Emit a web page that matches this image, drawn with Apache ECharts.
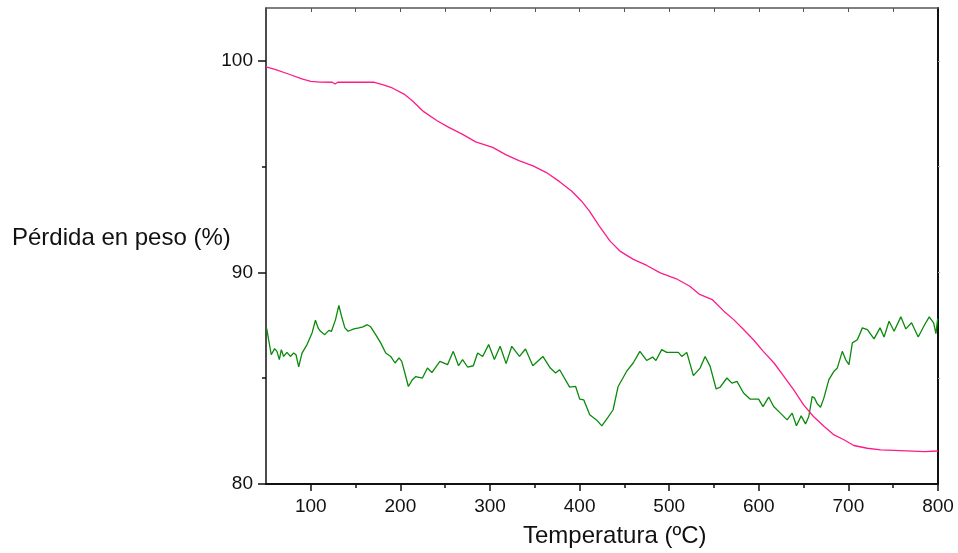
<!DOCTYPE html>
<html>
<head>
<meta charset="utf-8">
<script src="https://cdn.jsdelivr.net/npm/echarts@6/dist/echarts.min.js"></script>
<style>
  html, body { margin: 0; padding: 0; background: #fff; }
  #chart { width: 958px; height: 553px; }
</style>
</head>
<body>
<div id="chart"></div>
<script>
// pérdida de peso (curva rosa), [temperatura, %]
var pesoData = [
	[50, 99.72], [60, 99.6], [75, 99.38], [90, 99.15], [100, 99.03], [110, 99.0],
	[124, 98.99], [127, 98.91], [130, 98.99], [150, 98.99], [171, 98.99], [180, 98.88],
	[191, 98.72], [204, 98.43], [213, 98.13], [226, 97.6], [241, 97.17], [254, 96.86],
	[269, 96.54], [284, 96.17], [303, 95.91], [318, 95.56], [333, 95.27], [348, 95.04],
	[363, 94.72], [378, 94.28], [391, 93.85], [402, 93.38], [411, 92.9], [422, 92.19],
	[434, 91.48], [445, 91.01], [460, 90.62], [475, 90.33], [490, 89.98], [508, 89.7],
	[523, 89.35], [534, 88.96], [548, 88.72], [561, 88.17], [572, 87.77], [583, 87.3],
	[594, 86.82], [605, 86.27], [617, 85.72], [628, 85.09], [639, 84.45], [650, 83.74],
	[661, 83.19], [673, 82.72], [684, 82.32], [695, 82.09], [706, 81.82], [721, 81.69],
	[736, 81.61], [758, 81.58], [785, 81.53], [800, 81.56]
];
// señal verde
var senalData = [
	[50, 87.45], [51, 87.3], [52.9, 86.82], [55.9, 86.11], [57.4, 86.03], [59.6, 86.4],
	[62.2, 86.27], [64.9, 85.88], [67.1, 86.35], [69.7, 86.03], [73.4, 86.22], [77.2, 86.03],
	[80.9, 86.19], [83.5, 86.11], [86.5, 85.54], [90.2, 86.19], [95.8, 86.59], [101.4, 87.14],
	[105.2, 87.74], [108.1, 87.38], [110.8, 87.22], [115.6, 87.06], [120.1, 87.26], [123.1, 87.22],
	[127.6, 87.77], [131.3, 88.44], [134.3, 87.93], [138, 87.38], [141.7, 87.22], [148.1, 87.33],
	[153.7, 87.38], [158.2, 87.43], [163, 87.53], [166.8, 87.43], [172.4, 87.06], [178, 86.67],
	[183.6, 86.19], [189.2, 86.03], [194, 85.72], [198.5, 85.96], [201.5, 85.8], [206, 85.08],
	[208.9, 84.61], [213.4, 84.93], [217.2, 85.08], [224.6, 85.01], [230.2, 85.48], [235.1, 85.27],
	[244.1, 85.8], [252.6, 85.64], [259, 86.27], [264.9, 85.59], [269.4, 85.88], [275, 85.53],
	[281.4, 85.59], [286.2, 86.19], [291.8, 86.03], [298.5, 86.59], [304.9, 85.88], [311.3, 86.51],
	[318, 85.69], [324.3, 86.51], [332.9, 86.03], [339.6, 86.38], [347.8, 85.59], [359, 86.03],
	[367.3, 85.48], [373.2, 85.25], [377.7, 85.4], [388.9, 84.58], [395.6, 84.61], [400.1, 84.01],
	[404.6, 83.98], [411.3, 83.27], [418.8, 83.03], [424.8, 82.75], [431.8, 83.16], [437.4, 83.51],
	[443, 84.61], [452.4, 85.32], [459.8, 85.72], [467.3, 86.27], [474.8, 85.84], [481.5, 86.0],
	[485.2, 85.84], [491.6, 86.35], [497.2, 86.22], [510.2, 86.22], [514, 86.03], [519.6, 86.22],
	[527, 85.12], [534.5, 85.48], [540.1, 86.03], [545.7, 85.56], [552.4, 84.49], [556.9, 84.58],
	[564.4, 85.01], [570, 84.77], [575.6, 84.85], [583, 84.3], [590.5, 84.01], [599.8, 84.01],
	[604.7, 83.66], [611, 84.11], [616.6, 83.66], [624.1, 83.35], [631.6, 83.03], [637.2, 83.35],
	[642, 82.75], [647.3, 83.22], [652.1, 82.84], [655.8, 83.19], [659.6, 84.14], [662.2, 84.06],
	[665.2, 83.79], [668.9, 83.63], [672.6, 84.06], [678.2, 84.93], [683.8, 85.32], [687.6, 85.48],
	[693.2, 86.27], [696.9, 85.88], [700.6, 85.64], [704.4, 86.67], [710, 86.82], [715.6, 87.38],
	[721.2, 87.3], [728.6, 86.86], [735.3, 87.38], [739.8, 86.95], [745.4, 87.69], [751, 87.22],
	[758.5, 87.9], [764.1, 87.33], [770.5, 87.62], [777.9, 86.95], [784.6, 87.49], [790.2, 87.9],
	[795.1, 87.62], [797.7, 87.11], [799.6, 87.81]
];
var xMajor = [100, 200, 300, 400, 500, 600, 700, 800];
var xMinor = [150, 250, 350, 450, 550, 650, 750];
var xTop = [100, 150, 200, 250, 300, 350, 400, 450, 500, 550, 600, 650, 700, 750];
var yMajor = [80, 90, 100];
var yMinor = [85, 95];
var yRight = [85, 90, 95, 100];

var chart = echarts.init(document.getElementById('chart'));
var titleFont = '24px Arial, "Liberation Sans", sans-serif';
var option = {
	animation: false,
	backgroundColor: '#fff',
	textStyle: { fontFamily: 'Arial, "Liberation Sans", sans-serif' },
	grid: { left: 266, right: 20, top: 8, bottom: 69, containLabel: false },
	graphic: [{
		type: 'text', left: 12, top: 226,
		style: { text: 'Pérdida en peso (%)', font: titleFont, fill: '#111' }
	}, {
		type: 'text', left: 523, top: 524,
		style: { text: 'Temperatura (ºC)', font: titleFont, fill: '#111' }
	}],
	xAxis: [{
		type: 'value', position: 'bottom', min: 50, max: 800,
		axisLine: { show: true, onZero: false, lineStyle: { color: '#111', width: 2 } },
		axisTick: { show: true, customValues: xMajor, length: 7, lineStyle: { color: '#111', width: 1.5 } },
		axisLabel: { customValues: xMajor, fontSize: 19, color: '#111', margin: 13 },
		splitLine: { show: false }
	}, {
		type: 'value', position: 'bottom', min: 50, max: 800,
		axisLine: { show: false, onZero: false },
		axisTick: { show: true, customValues: xMinor, length: 4, lineStyle: { color: '#111', width: 1.5 } },
		axisLabel: { show: false },
		splitLine: { show: false }
	}, {
		type: 'value', position: 'top', min: 50, max: 800,
		axisLine: { show: true, onZero: false, lineStyle: { color: '#555', width: 1.5 } },
		axisTick: { show: true, inside: true, customValues: xTop, length: 4, lineStyle: { color: '#555' } },
		axisLabel: { show: false },
		splitLine: { show: false }
	}],
	yAxis: [{
		type: 'value', position: 'left', min: 80, max: 102.5,
		axisLine: { show: true, onZero: false, lineStyle: { color: '#111', width: 1.5 } },
		axisTick: { show: true, customValues: yMajor, length: 8, lineStyle: { color: '#111', width: 1.5 } },
		axisLabel: { customValues: yMajor, fontSize: 19, color: '#111', margin: 13 },
		splitLine: { show: false }
	}, {
		type: 'value', position: 'left', min: 80, max: 102.5,
		axisLine: { show: false, onZero: false },
		axisTick: { show: true, customValues: yMinor, length: 4, lineStyle: { color: '#111', width: 1.5 } },
		axisLabel: { show: false },
		splitLine: { show: false }
	}, {
		type: 'value', position: 'right', min: 80, max: 102.5,
		axisLine: { show: true, onZero: false, lineStyle: { color: '#111', width: 2 } },
		axisTick: { show: true, customValues: yRight, length: 2, lineStyle: { color: '#aaa' } },
		axisLabel: { show: false },
		splitLine: { show: false }
	}],
	series: [{
		name: 'peso',
		type: 'line',
		data: pesoData,
		showSymbol: false,
		symbol: 'none',
		lineStyle: { color: '#ff1a8c', width: 1.3 },
		z: 3
	}, {
		name: 'senal',
		type: 'line',
		data: senalData,
		showSymbol: false,
		symbol: 'none',
		lineStyle: { color: '#0a8a0a', width: 1.3 },
		z: 2
	}]
};
chart.setOption(option);
</script>
</body>
</html>
